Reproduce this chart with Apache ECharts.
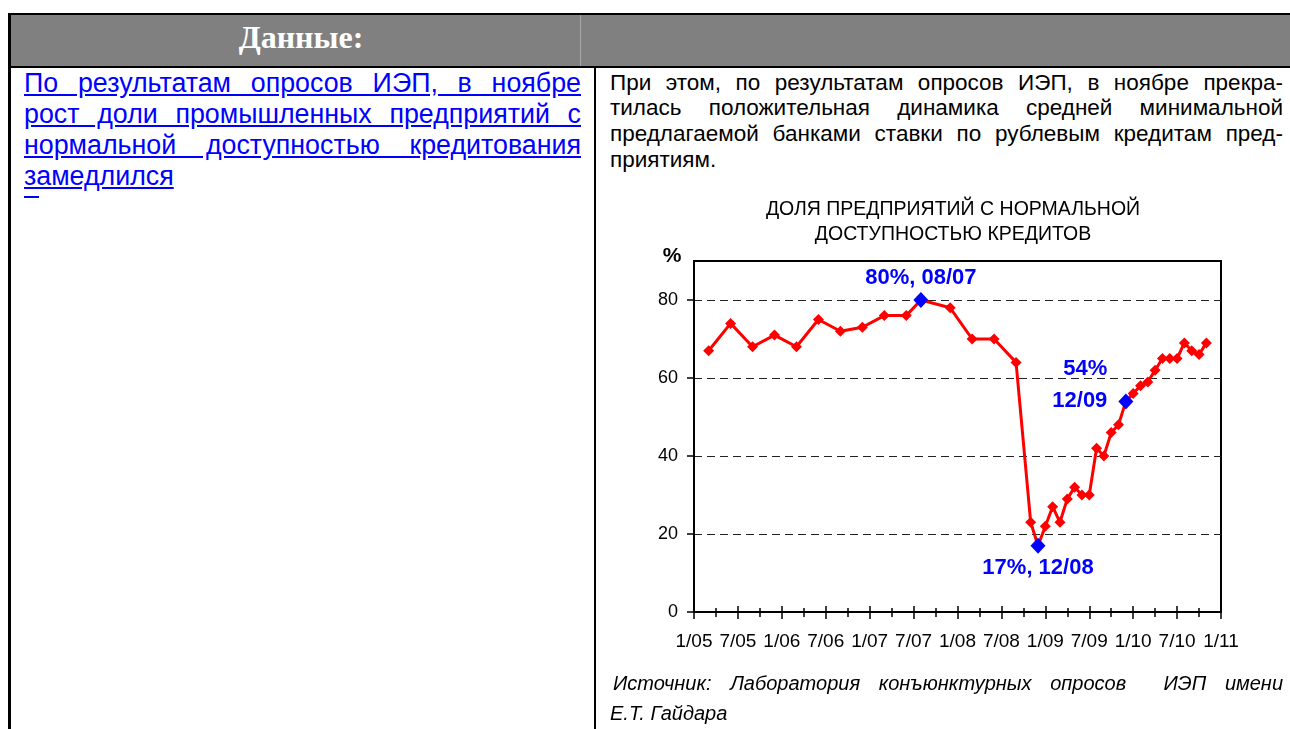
<!DOCTYPE html>
<html>
<head>
<meta charset="utf-8">
<script src="https://cdn.jsdelivr.net/npm/echarts/dist/echarts.min.js"></script>
<style>
  html, body { margin: 0; padding: 0; }
  body { width: 1290px; height: 729px; overflow: hidden; background: #fff; position: relative;
         font-family: "Liberation Sans", Arial, sans-serif; }
  .abs { position: absolute; }
  #hdr { left: 8px; top: 13px; width: 1282px; height: 51px; background: #808080;
         border-top: 2px solid #000; border-bottom: 2px solid #000; z-index: 1; }
  #lb { left: 8px; top: 13px; width: 3px; height: 716px; background: #000; z-index: 2; }
  #hdiv { left: 580px; top: 15px; width: 1px; height: 51px; background: #a8a8a8; z-index: 2; }
  #cdiv { left: 594px; top: 68px; width: 2px; height: 661px; background: #000; z-index: 2; }
  #hdrtext { left: 0; top: 21px; width: 602px; text-align: center; color: #fff;
             font: bold 32px/33px "Liberation Serif", "Times New Roman", serif; z-index: 3; }
  #lt { left: 24px; top: 67.5px; width: 557px; font-size: 26.8px; line-height: 31px;
        color: #0000ff; text-decoration: underline; z-index: 3; }
  #dash { left: 24px; top: 196px; width: 15px; height: 2px; background: #0000ff; z-index: 3; }
  #rt { left: 610px; top: 69.5px; width: 673px; font-size: 22.5px; line-height: 25.8px; color: #000; z-index: 3; }
  #src { left: 610px; top: 668px; width: 673px; font-size: 20px; line-height: 30px; font-style: italic; color: #000; z-index: 3; }
  .j { text-align: justify; text-align-last: justify; }
  .l { text-align: left; }
  #chart { left: 616px; top: 180px; width: 674px; height: 549px; z-index: 2; }
</style>
</head>
<body>
<div id="hdr" class="abs"></div>
<div id="lb" class="abs"></div>
<div id="hdiv" class="abs"></div>
<div id="cdiv" class="abs"></div>
<div id="hdrtext" class="abs">Данные:</div>
<div id="lt" class="abs">
  <div class="j">По результатам опросов ИЭП, в ноябре</div>
  <div class="j">рост доли промышленных предприятий с</div>
  <div class="j">нормальной доступностью кредитования</div>
  <div class="l">замедлился</div>
</div>
<div id="dash" class="abs"></div>
<div id="rt" class="abs">
  <div class="j">При этом, по результатам опросов ИЭП, в ноябре прекра-</div>
  <div class="j">тилась положительная динамика средней минимальной</div>
  <div class="j">предлагаемой банками ставки по рублевым кредитам пред-</div>
  <div class="l">приятиям.</div>
</div>
<div id="chart" class="abs"></div>
<div id="src" class="abs">
  <div class="j" style="padding-left:3px">Источник: Лаборатория конъюнктурных опросов &nbsp;ИЭП имени</div>
  <div class="l">Е.Т. Гайдара</div>
</div>
<script>
// ---- data ----
const chartTitle = 'ДОЛЯ ПРЕДПРИЯТИЙ С НОРМАЛЬНОЙ\nДОСТУПНОСТЬЮ КРЕДИТОВ';
const dates = ['3/05','6/05','9/05','12/05','3/06','6/06','9/06','12/06','3/07','6/07','8/07','12/07',
               '3/08','6/08','9/08','11/08','12/08',
               '1/09','2/09','3/09','4/09','5/09','6/09','7/09','8/09','9/09','10/09','11/09','12/09',
               '1/10','2/10','3/10','4/10','5/10','6/10','7/10','8/10','9/10','10/10','11/10'];
const values = [67,74,68,71,68,75,72,73,76,76,80,78,
                70,70,64,23,17,
                22,27,23,29,32,30,30,42,40,46,48,54,
                56,58,59,62,65,65,65,69,67,66,69];
const highlightDates = ['8/07','12/08','12/09'];
const highlightLabels = ['80%, 08/07','17%, 12/08','54%\n12/09'];
const xTickLabels = ['1/05','7/05','1/06','7/06','1/07','7/07','1/08','7/08','1/09','7/09','1/10','7/10','1/11'];
const yTickValues = [0,20,40,60,80];
const yUnit = '%';

// ---- helpers ----
const FONT = '"Liberation Sans", Arial, sans-serif';
const monthIndex = d => { const p = d.split('/').map(Number); return (p[1] - 5) * 12 + (p[0] - 1); };
const points = dates.map((d, i) => [monthIndex(d), values[i]]);
const labelStyles = [
  { position: 'top', distance: 3 },
  { position: 'bottom', distance: 3 },
  { position: 'left', distance: 11, align: 'right', lineHeight: 32, offset: [0, -16] }
];
const hlPoints = highlightDates.map((d, i) => ({
  value: [monthIndex(d), values[dates.indexOf(d)]],
  label: Object.assign({ formatter: highlightLabels[i] }, labelStyles[i])
}));

const chart = echarts.init(document.getElementById('chart'), null, { renderer: 'canvas' });
const tickStyle = { color: '#000', width: 1.5 };
chart.setOption({
  animation: false,
  title: {
    text: chartTitle, left: 'center', top: 12,
    textStyle: { fontFamily: FONT, fontSize: 19.5, fontWeight: 'normal', color: '#000', lineHeight: 25 }
  },
  graphic: [{
    type: 'text', x: 56, y: 76,
    style: { text: yUnit, fontFamily: FONT, fontSize: 21, fontWeight: 'bold', fill: '#000',
             textAlign: 'center', textVerticalAlign: 'middle' }
  }],
  grid: { left: 78, top: 81, width: 527, height: 351, show: true, borderColor: '#000', borderWidth: 2,
          backgroundColor: 'transparent', containLabel: false },
  xAxis: [{
    type: 'value', min: 0, max: 72, interval: 6, position: 'bottom',
    axisLine: { show: true, onZero: false, lineStyle: { color: '#000', width: 2 } },
    axisTick: { show: true, inside: false, length: 7, lineStyle: tickStyle },
    minorTick: { show: true, splitNumber: 2, length: 5, lineStyle: tickStyle },
    axisLabel: { show: true, margin: 20, fontFamily: FONT, fontSize: 19, color: '#000',
                 showMinLabel: true, showMaxLabel: true, hideOverlap: false,
                 formatter: v => xTickLabels[Math.round(v / 6)] || '' },
    splitLine: { show: false }, minorSplitLine: { show: false }
  }, {
    type: 'value', min: 0, max: 72, interval: 6, position: 'bottom',
    axisLine: { show: false, onZero: false },
    axisTick: { show: true, inside: true, length: 6, lineStyle: tickStyle },
    minorTick: { show: true, splitNumber: 2, length: 4, lineStyle: tickStyle },
    axisLabel: { show: false },
    splitLine: { show: false }, minorSplitLine: { show: false }
  }],
  yAxis: {
    type: 'value', min: 0, max: 90, interval: 20,
    axisLine: { show: true, lineStyle: { color: '#000', width: 2 } },
    axisTick: { show: true, inside: false, length: 7, customValues: yTickValues, lineStyle: tickStyle },
    axisLabel: { show: true, margin: 16, fontFamily: FONT, fontSize: 18, color: '#000', customValues: yTickValues },
    splitLine: { show: true, lineStyle: { color: '#222', width: 1, type: [8, 5] } }
  },
  series: [{
    type: 'line', data: points, xAxisIndex: 0, yAxisIndex: 0,
    symbol: 'diamond', symbolSize: 11, showAllSymbol: true,
    lineStyle: { color: '#ff0000', width: 3 },
    itemStyle: { color: '#ff0000', opacity: 1 }, z: 3
  }, {
    type: 'scatter', data: hlPoints, xAxisIndex: 0, yAxisIndex: 0,
    symbol: 'diamond', symbolSize: [15, 16],
    itemStyle: { color: '#0000ff', opacity: 1 }, z: 5,
    label: { show: true, fontFamily: FONT, fontSize: 22, fontWeight: 'bold', color: '#0000ff' }
  }]
});
</script>
</body>
</html>
